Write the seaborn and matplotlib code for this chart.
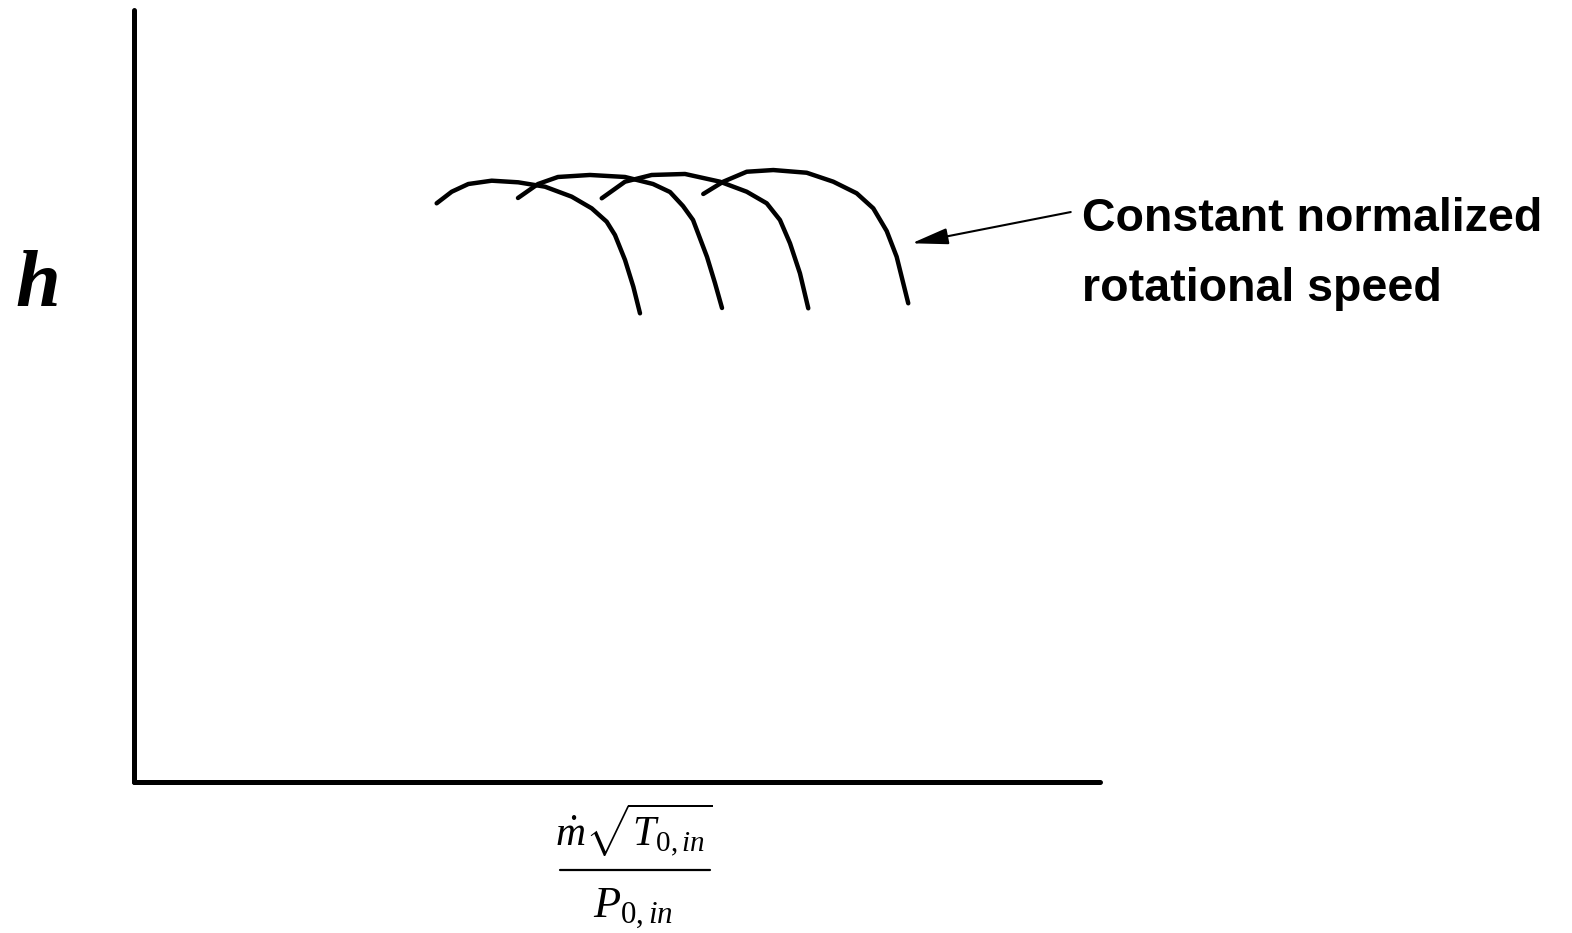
import numpy as np
import pandas as pd
import matplotlib
matplotlib.use("Agg")
import matplotlib.pyplot as plt
from matplotlib.lines import Line2D
import seaborn as sns

# Constant-speed characteristic lines (normalized mass flow vs. efficiency), in axis units 0-100
speed_labels = ["N1", "N2", "N3", "N4"]
flow_n1 = [31.33, 32.89, 34.61, 37.03, 39.78, 42.55, 45.31, 47.38, 48.93, 49.79, 50.83, 51.69, 52.38]
eff_n1 = [74.96, 76.46, 77.46, 77.89, 77.68, 77.11, 75.82, 74.31, 72.58, 70.85, 67.62, 64.16, 60.71]
flow_n2 = [39.75, 41.82, 43.89, 47.20, 50.83, 53.73, 55.49, 56.83, 57.87, 59.32, 60.14, 60.87]
eff_n2 = [75.65, 77.46, 78.37, 78.63, 78.37, 77.46, 76.42, 74.61, 72.80, 68.01, 64.64, 61.40]
flow_n3 = [48.42, 50.83, 53.59, 57.04, 60.66, 63.43, 65.50, 66.87, 67.91, 68.94, 69.80]
eff_n3 = [75.61, 77.76, 78.63, 78.76, 77.76, 76.46, 74.96, 72.80, 69.78, 65.89, 61.36]
flow_n4 = [58.93, 61.00, 63.43, 66.18, 69.64, 72.39, 74.81, 76.53, 77.92, 78.95, 80.15]
eff_n4 = [76.17, 77.76, 79.05, 79.27, 78.92, 77.76, 76.26, 74.31, 71.37, 68.04, 62.01]

frames = []
for lab, fx, fy in zip(speed_labels, [flow_n1, flow_n2, flow_n3, flow_n4],
                       [eff_n1, eff_n2, eff_n3, eff_n4]):
    frames.append(pd.DataFrame({"flow": fx, "eff": fy, "speed": lab}))
df = pd.concat(frames, ignore_index=True)

sns.set_theme(style="white")
plt.rcParams["font.family"] = ["Liberation Sans", "DejaVu Sans"]
plt.rcParams["mathtext.fontset"] = "custom"
plt.rcParams["mathtext.rm"] = "Liberation Serif"
plt.rcParams["mathtext.it"] = "Liberation Serif:italic"

W, H = 1572, 933
fig = plt.figure(figsize=(W / 100, H / 100), dpi=100)
ax = fig.add_axes([134 / W, 1 - 782 / H, (1100 - 134) / W, (782 - 10) / H])

sns.lineplot(data=df, x="flow", y="eff", units="speed", estimator=None, sort=False,
             color="black", linewidth=3.2, legend=False, ax=ax,
             solid_capstyle="round", solid_joinstyle="round")

ax.set_xlim(0, 100)
ax.set_ylim(0, 100)
ax.set_xticks([])
ax.set_yticks([])
for side in ["top", "right"]:
    ax.spines[side].set_visible(False)
for side in ["left", "bottom"]:
    ax.spines[side].set_color("black")
    ax.spines[side].set_linewidth(3.6)
    ax.spines[side].set_capstyle("round")
ax.set_xlabel("")
ax.set_ylabel("")

# Efficiency symbol on the vertical axis
fig.text(15 / W, 1 - 287 / H, "h", family="Liberation Serif", fontweight="bold",
         fontstyle="italic", fontsize=58, ha="left", va="center", color="black")

# Corrected mass flow label under the horizontal axis, set as a stacked fraction
fig.text(634 / W, 1 - 846 / H, r"$\dot{m}\sqrt{T_{0,in}}$",
         fontsize=30, ha="center", va="baseline", color="black")
fig.add_artist(Line2D([560 / W, 710 / W], [1 - 870 / H, 1 - 870 / H],
                      transform=fig.transFigure, color="black", lw=1.6))
fig.text(633 / W, 1 - 918 / H, r"$P_{0,in}$",
         fontsize=32, ha="center", va="baseline", color="black")

# Annotation pointing at the constant-speed lines
ax.annotate("", xy=(80.51, 69.78), xytext=(96.97, 73.83),
            arrowprops=dict(arrowstyle="-|>,head_length=1.12,head_width=0.25",
                            mutation_scale=20, color="black", lw=1.5,
                            shrinkA=0, shrinkB=0),
            annotation_clip=False)
fig.text(1082 / W, 1 - 231 / H, "Constant normalized", fontsize=33.5,
         fontweight="bold", ha="left", va="baseline", color="black")
fig.text(1082 / W, 1 - 301 / H, "rotational speed", fontsize=33.5,
         fontweight="bold", ha="left", va="baseline", color="black")

fig.savefig("out.png", dpi=100, facecolor="white")
